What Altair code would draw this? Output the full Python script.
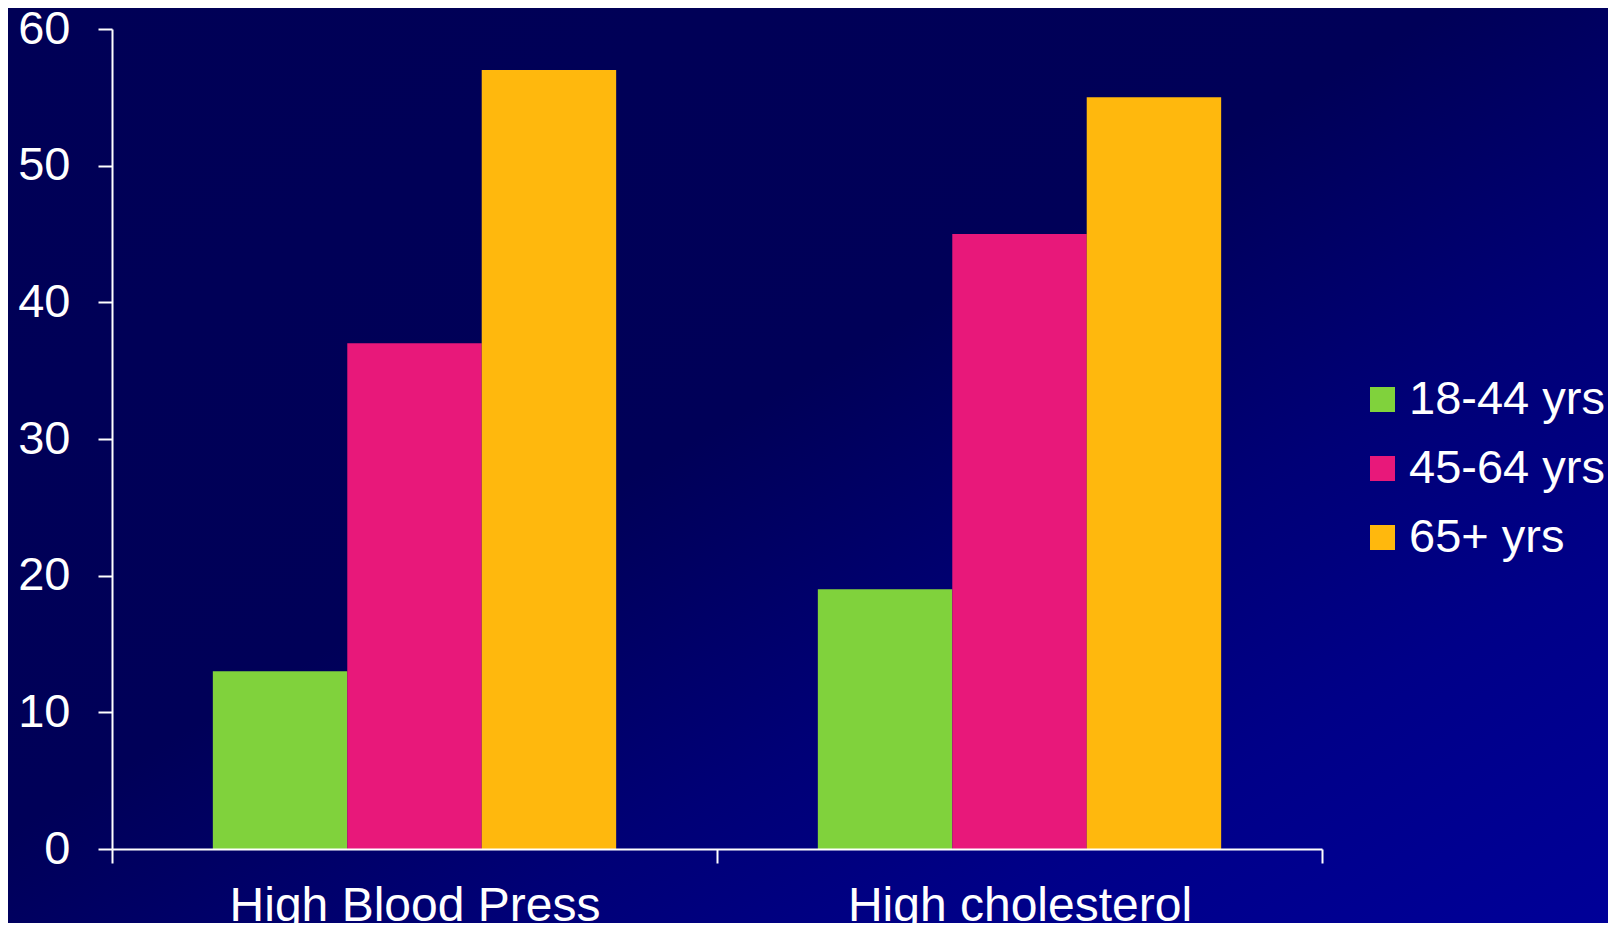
import altair as alt
import pandas as pd

categories = ["High Blood Press", "High cholesterol"]
age_groups = ["18-44 yrs", "45-64 yrs", "65+ yrs"]
high_blood_press = [13, 37, 57]
high_cholesterol = [19, 45, 55]
bar_colors = ["#80D23C", "#E8187A", "#FFB80D"]
y_ticks = [0, 10, 20, 30, 40, 50, 60]

rows = []
for cat, vals in zip(categories, [high_blood_press, high_cholesterol]):
    for g, v in zip(age_groups, vals):
        rows.append({"category": cat, "age": g, "value": v})
df = pd.DataFrame(rows)

W, H = 1210, 820
PAD = {"left": 104, "top": 21, "right": 286, "bottom": 74}
FONT = "Liberation Sans"

gradient = alt.LinearGradient(
    gradient="linear",
    stops=[
        alt.GradientStop(color="#000056", offset=0),
        alt.GradientStop(color="#000058", offset=0.45),
        alt.GradientStop(color="#000076", offset=0.65),
        alt.GradientStop(color="#000088", offset=0.8),
        alt.GradientStop(color="#000098", offset=1),
    ],
    x1=0, y1=0, x2=1, y2=1,
)

bg = alt.Chart(pd.DataFrame({"k": [0]})).mark_rect(
    fill=gradient, strokeWidth=0
).encode(
    x=alt.value(-PAD["left"]),
    x2=alt.value(W + PAD["right"]),
    y=alt.value(-PAD["top"]),
    y2=alt.value(H + PAD["bottom"]),
)

bars = alt.Chart(df).mark_bar(strokeWidth=0).encode(
    x=alt.X(
        "category:N",
        sort=categories,
        scale=alt.Scale(paddingInner=0, paddingOuter=0),
        axis=alt.Axis(
            title=None, labelAngle=0, labelFont=FONT, labelFontSize=48,
            labelColor="white", labelPadding=19, labelLimit=0,
            tickBand="extent", tickSize=14, tickColor="white", tickWidth=2,
            domainColor="white", domainWidth=2, labelOverlap=False,
            zindex=2,
        ),
    ),
    xOffset=alt.XOffset(
        "age:N", sort=age_groups,
        scale=alt.Scale(paddingInner=0, paddingOuter=0.75),
    ),
    y=alt.Y(
        "value:Q",
        scale=alt.Scale(domain=[0, 60], nice=False),
        axis=alt.Axis(
            values=y_ticks, title=None, grid=False, labelFont=FONT,
            labelFontSize=47, labelColor="white", labelPadding=28,
            tickSize=14, tickColor="white", tickWidth=2,
            domainColor="white", domainWidth=2, zindex=2,
        ),
    ),
    color=alt.Color(
        "age:N", sort=age_groups,
        scale=alt.Scale(domain=age_groups, range=bar_colors),
        legend=alt.Legend(
            title=None, orient="none", legendX=1247, legendY=347,
            labelFont=FONT, labelFontSize=47, labelColor="white",
            labelLimit=0, labelOffset=3, symbolType="square",
            symbolSize=625, symbolStrokeWidth=0, symbolOpacity=1,
            rowPadding=21, zindex=2,
        ),
    ),
)

chart = alt.layer(bg, bars).properties(
    width=W, height=H, padding=PAD,
    autosize=alt.AutoSizeParams(type="none"),
    background="#000058",
).configure_view(stroke=None)

chart.save("out.html", embed_options={"renderer": "svg", "actions": False})
